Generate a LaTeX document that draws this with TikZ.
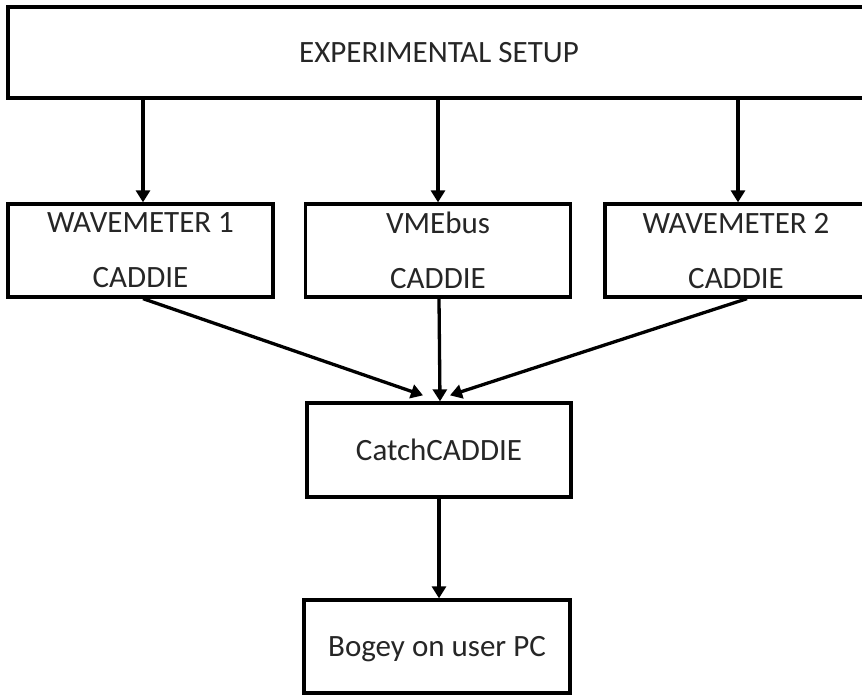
\documentclass[tikz,border=0pt]{standalone}
\usepackage{fontspec}
\setmainfont{Carlito}
\usetikzlibrary{arrows.meta}
\definecolor{inkgray}{HTML}{262626}
\tikzset{
  box/.style={draw=black, line width=3.3pt, fill=white, inner sep=0pt,
    minimum width=265pt, minimum height=93pt, align=center, text=inkgray,
    font=\fontsize{31}{55}\selectfont, text depth=0pt},
  link/.style={line width=3.3pt, -{Triangle[length=12pt,width=14pt]}}
}
\begin{document}
\begin{tikzpicture}[x=1pt, y=-1pt]
  \useasboundingbox (0,0) rectangle (862,695);
  \clip (0,0) rectangle (862,695);
  \fill[white] (0,0) rectangle (862,695);

  % source, acquisition boxes, collector and viewer
  \node[box, minimum width=862pt, minimum height=91pt] (setup) at (439,52.5) {EXPERIMENTAL SETUP};
  \node[box] (wm1) at (140.5,250.5) {WAVEMETER 1\\CADDIE};
  \node[box] (vme) at (438,250.5) {VMEbus\\CADDIE};
  \node[box, minimum width=262pt] (wm2) at (736,250.5) {WAVEMETER 2\\CADDIE};
  \node[box, minimum width=264pt, minimum height=94pt] (catch) at (439,450) {CatchCADDIE};
  \node[box, minimum width=266pt] (bogey) at (437,646.5) {Bogey on user PC};

  % connectors
  \draw[link] (setup.south -| wm1.north) ++(2.5,0) coordinate (s1) -- (s1 |- wm1.north);
  \draw[link] (setup.south -| vme.north) -- (vme.north);
  \draw[link] (setup.south -| wm2.north) ++(2,0) coordinate (s3) -- (s3 |- wm2.north);
  \draw[link] ([xshift=2.5pt]wm1.south) -- ([xshift=-16pt,yshift=6pt]catch.north);
  \draw[link] ([xshift=1pt]vme.south) -- ([xshift=1pt]catch.north);
  \draw[link] ([xshift=11pt]wm2.south) -- ([xshift=11pt,yshift=6pt]catch.north);
  \draw[link] (catch.south) -- (catch.south |- bogey.north);
\end{tikzpicture}
\end{document}
